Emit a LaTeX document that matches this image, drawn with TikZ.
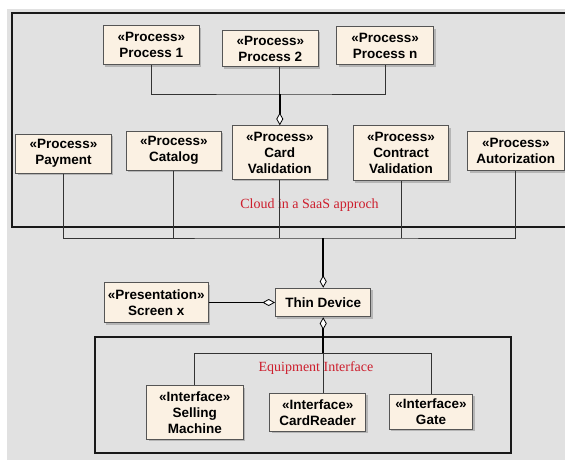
\documentclass[tikz,border=0pt]{standalone}
\usepackage{fontspec}
\setmainfont{Liberation Serif}
\setsansfont{Liberation Sans}
\usetikzlibrary{arrows.meta,shadows}
\definecolor{fondo}{RGB}{225,225,225}
\definecolor{crema}{RGB}{251,241,227}
\definecolor{borde}{RGB}{85,85,85}
\definecolor{rojo}{RGB}{205,30,45}
\begin{document}
\begin{tikzpicture}[x=1pt,y=-1pt,
  box/.style={draw=borde, line width=1pt, fill=crema, align=center, inner sep=0pt,
    font=\fontsize{13.5}{16}\selectfont\sffamily\bfseries,
    drop shadow={shadow xshift=2pt, shadow yshift=-2pt, fill=black!40, opacity=0.6}},
  link/.style={draw=black!80, line width=0.8pt},
  agg/.style={draw=black, line width=1.7pt, -{Diamond[length=12.5pt,width=7pt,fill=white,line width=0.8pt]}},
  frame/.style={draw=black!90, line width=1.6pt},
  lbl/.style={text=rojo, font=\fontsize{14}{16}\selectfont}]
  \useasboundingbox (0,0) rectangle (565,460);
  \clip (0,0) rectangle (565,460);

  % Fondo y paquetes
  \fill[fondo] (6.7,9) rectangle (570,465);
  \draw[frame] (11.7,13.3) rectangle (570,226.7);
  \draw[frame] (95,336.7) rectangle (511,452.7);
  \node[lbl] (cloudlbl) at (309.5,205) {Cloud in a SaaS approch};
  \node[lbl] (equiplbl) at (316,368) {Equipment Interface};

  % Procesos
  \node[box, minimum width=96pt, minimum height=39pt] (p1) at (151.3,45.3) {«Process»\\Process 1};
  \node[box, minimum width=96pt, minimum height=36.5pt] (p2) at (270.3,48.5) {«Process»\\Process 2};
  \node[box, minimum width=97pt, minimum height=38pt] (pn) at (385.2,45.7) {«Process»\\Process n};
  \node[box, minimum width=95.5pt, minimum height=39pt] (pay) at (63.5,153.7) {«Process»\\Payment};
  \node[box, minimum width=95pt, minimum height=39pt] (cat) at (173.8,150.5) {«Process»\\Catalog};
  \node[box, minimum width=95pt, minimum height=53.5pt] (card) at (279.8,152.5) {«Process»\\Card\\Validation};
  \node[box, minimum width=95.5pt, minimum height=55pt] (contr) at (401,153.2) {«Process»\\Contract\\Validation};
  \node[box, minimum width=96.5pt, minimum height=39pt] (autor) at (515.8,151.2) {«Process»\\Autorization};

  % Dispositivo
  \node[box, minimum width=104pt, minimum height=40pt] (scr) at (156.2,302.5) {«Presentation»\\Screen x};
  \node[box, minimum width=95.5pt, minimum height=28.5pt] (thin) at (323.2,302.5) {Thin Device};

  % Interfaces
  \node[box, minimum width=96.5pt, minimum height=53.5pt] (sell) at (194.8,412.7) {«Interface»\\Selling\\Machine};
  \node[box, minimum width=96pt, minimum height=38pt] (cread) at (317.7,412.3) {«Interface»\\CardReader};
  \node[box, minimum width=83.5pt, minimum height=35pt] (gate) at (431,411.8) {«Interface»\\Gate};

  % Conexiones
  \coordinate (jp) at (279.8,94);
  \coordinate (bus) at (323.2,238);
  \coordinate (bus2) at (323.2,353.3);
  \draw[link] (p1.south) |- (jp) -| (pn.south);
  \draw[link] (jp |- p2.south) -- (jp);
  \draw[agg] (jp) -- (card.north);
  \draw[link] (pay.south) |- (bus) -| (autor.south);
  \draw[link] (cat.south) -- (cat.south |- bus);
  \draw[link] (card.south) -- (card.south |- bus);
  \draw[link] (contr.south) -- (contr.south |- bus);
  \draw[agg] (bus) -- (thin.north);
  \draw[agg] (scr.east) -- (thin.west);
  \draw[agg] (bus2) -- (thin.south);
  \draw[link] (sell.north) |- (bus2) -| (gate.north);
  \draw[link] (bus2) -- (bus2 |- cread.north);
\end{tikzpicture}
\end{document}
